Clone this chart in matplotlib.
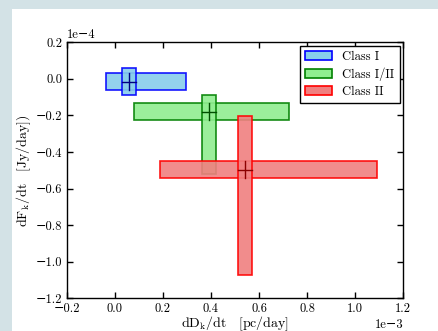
import matplotlib
matplotlib.use("Agg")
import matplotlib.pyplot as plt
from matplotlib.patches import Rectangle, Patch

# Data (x in units of 1e-3 pc/day, y in units of 1e-4 Jy/day)
classes = ["Class I", "Class I/II", "Class II"]
x_center = [0.060, 0.392, 0.541]
y_center = [-0.015, -0.179, -0.496]
x_low = [-0.038, 0.079, 0.187]
x_high = [0.296, 0.726, 1.092]
y_low = [-0.088, -0.520, -1.074]
y_high = [0.061, -0.088, -0.204]
bar_w = 0.060   # width of vertical bar (1e-3)
bar_h = 0.090   # height of horizontal bar (1e-4)

face_colors = ["#87CEEB", "#90EE90", "#F08080"]
edge_colors = ["#0000FF", "#008000", "#FF0000"]
cross_colors = ["#000080", "#004d00", "#8b0000"]

plt.rcParams['font.family'] = ['cmr10', 'DejaVu Serif']
plt.rcParams['mathtext.fontset'] = 'cm'
plt.rcParams['axes.formatter.use_mathtext'] = False

fig = plt.figure(figsize=(4.38, 3.31), dpi=100)
fig.patch.set_facecolor('#d3e2e6')
bg = Rectangle((12/438, 0), 1 - 12/438, 1 - 9/331,
               transform=fig.transFigure, facecolor='white',
               edgecolor='none', zorder=-10)
fig.patches.append(bg)

ax = fig.add_axes([66.7/438, (331-298.3)/331, (403.3-66.7)/438, (298.3-42.3)/331])
ax.set_zorder(1)

sx, sy = 1e-3, 1e-4
for i in range(len(classes)):
    # horizontal bar
    ax.add_patch(Rectangle((x_low[i]*sx, (y_center[i]-bar_h/2)*sy),
                           (x_high[i]-x_low[i])*sx, bar_h*sy,
                           facecolor=face_colors[i], edgecolor=edge_colors[i],
                           lw=1.2, alpha=0.9))
    # vertical bar
    ax.add_patch(Rectangle(((x_center[i]-bar_w/2)*sx, y_low[i]*sy),
                           bar_w*sx, (y_high[i]-y_low[i])*sy,
                           facecolor=face_colors[i], edgecolor=edge_colors[i],
                           lw=1.2, alpha=0.9))
    # central cross
    ax.plot([(x_center[i]-bar_w/2)*sx, (x_center[i]+bar_w/2)*sx],
            [y_center[i]*sy, y_center[i]*sy], color=cross_colors[i], lw=1.0)
    ax.plot([x_center[i]*sx, x_center[i]*sx],
            [(y_center[i]-bar_h/2)*sy, (y_center[i]+bar_h/2)*sy],
            color=cross_colors[i], lw=1.0)

ax.set_xlim(-0.2e-3, 1.2e-3)
ax.set_ylim(-1.2e-4, 0.2e-4)
ax.set_xticks([v*1e-3 for v in [-0.2, 0.0, 0.2, 0.4, 0.6, 0.8, 1.0, 1.2]])
ax.set_yticks([v*1e-4 for v in [-1.2, -1.0, -0.8, -0.6, -0.4, -0.2, 0.0, 0.2]])
ax.ticklabel_format(style='sci', axis='both', scilimits=(0, 0))
ax.tick_params(direction='in', top=True, right=True, length=4, width=1,
               labelsize=9, pad=3)
ax.xaxis.get_offset_text().set_fontsize(9)
ax.yaxis.get_offset_text().set_fontsize(9)
for s in ax.spines.values():
    s.set_linewidth(1.0)

ax.set_xlabel(r'$\mathrm{dD_k/dt\ \ \ [pc/day]}$', fontsize=10, labelpad=0)
ax.set_ylabel(r'$\mathrm{dF_k/dt\ \ \ [Jy/day])}$', fontsize=10, labelpad=2)

handles = [Patch(facecolor=face_colors[i], edgecolor=edge_colors[i], lw=1.2,
                 label=classes[i]) for i in range(len(classes))]
leg = ax.legend(handles=handles, loc='upper right', fontsize=9,
                fancybox=False, framealpha=1, edgecolor='black',
                borderaxespad=0.3, handlelength=2.2, labelspacing=0.35)
leg.get_frame().set_linewidth(1.0)

fig.savefig('out.png', dpi=100, facecolor=fig.get_facecolor())
